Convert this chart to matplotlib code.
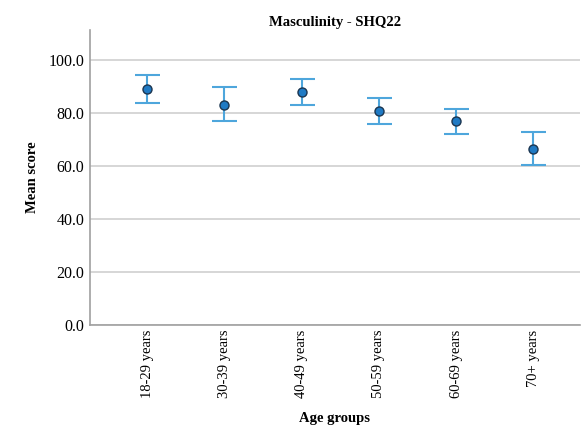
import matplotlib
matplotlib.use("Agg")
import matplotlib.pyplot as plt

categories = ["18-29 years", "30-39 years", "40-49 years", "50-59 years", "60-69 years", "70+ years"]
means = [88.9, 83.2, 87.9, 80.8, 76.9, 66.5]
upper = [94.5, 89.7, 92.7, 85.5, 81.5, 72.7]
lower = [83.6, 76.8, 83.1, 76.0, 72.2, 60.5]
yticks = [0, 20, 40, 60, 80, 100]

plt.rcParams['font.family'] = ['Liberation Serif', 'DejaVu Serif']

fig = plt.figure(figsize=(5.81, 4.29), dpi=100)
ax = fig.add_axes([0.155, 0.2424, 0.843, 0.6876])

x = list(range(len(categories)))
yerr = [[m - l for m, l in zip(means, lower)], [u - m for u, m in zip(upper, means)]]
ax.errorbar(x, means, yerr=yerr, fmt='none', ecolor='#4ea6dc', elinewidth=1.5,
            capsize=9, capthick=1.5, zorder=3)
ax.plot(x, means, 'o', markersize=6.5, markerfacecolor='#1f7ac4',
        markeredgecolor='#1b3550', markeredgewidth=1.0, zorder=4)

ax.set_ylim(0, 111.3)
ax.set_xlim(-0.74, 5.6)
ax.set_yticks(yticks)
ax.set_yticklabels([f"{v:.1f}" for v in yticks], fontsize=11.5)
ax.set_xticks(x)
ax.set_xticklabels(categories, rotation=90, fontsize=10.5)
ax.tick_params(axis='y', length=0, pad=4)
ax.tick_params(axis='x', length=0, pad=3.5)

ax.grid(axis='y', color='#d0d0d0', linewidth=1.2)
ax.set_axisbelow(True)
for s in ['top', 'right']:
    ax.spines[s].set_visible(False)
for s in ['left', 'bottom']:
    ax.spines[s].set_color('#a0a0a0')
    ax.spines[s].set_linewidth(1.2)

ax.set_title("Masculinity - SHQ22", fontsize=10.5, fontweight='bold', pad=3)
ax.set_xlabel("Age groups", fontsize=10.5, fontweight='bold', labelpad=10)
ax.set_ylabel("Mean score", fontsize=10.5, fontweight='bold', labelpad=7)

fig.savefig("out.png", dpi=100)
